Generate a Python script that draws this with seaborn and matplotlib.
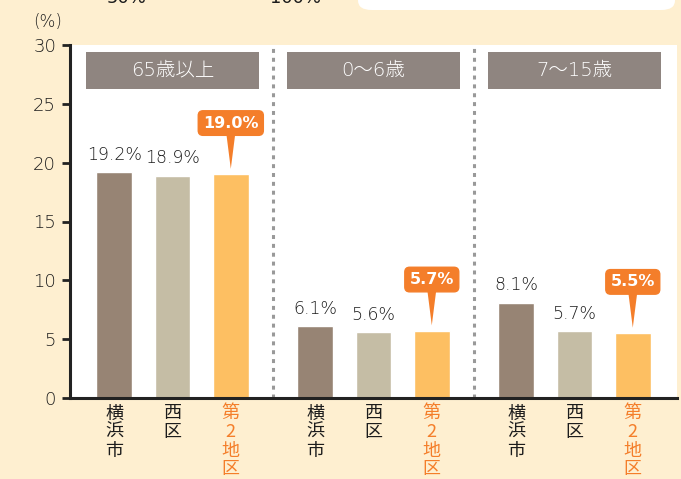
import numpy as np
import pandas as pd
import matplotlib.pyplot as plt
import seaborn as sns
from matplotlib.patches import FancyBboxPatch

# data
groups = ["65歳以上", "0〜6歳", "7〜15歳"]
areas = ["横浜市", "西区", "第2地区"]
area_ticks = ["横\n浜\n市", "西\n区", "第\n2\n地\n区"]
yokohama = [19.2, 6.1, 8.1]
nishi = [18.9, 5.6, 5.7]
chiku2 = [19.0, 5.7, 5.5]

bg = "#FEEFD0"
palette = {"横浜市": "#978474", "西区": "#C5BDA5", "第2地区": "#FDBF62"}
callout = "#F47E2A"
textc = "#1c1c1c"

df = pd.DataFrame({
    "group": np.repeat(groups, 3),
    "area": areas * 3,
    "value": [v for trio in zip(yokohama, nishi, chiku2) for v in trio],
})

sns.set_theme(style="white")
plt.rcParams["font.family"] = ["DejaVu Sans", "Noto Sans CJK JP"]
cjk = ["Noto Sans CJK JP", "DejaVu Sans"]

fig = plt.figure(figsize=(6.81, 4.79), dpi=100, facecolor=bg)
ax = fig.add_axes([70 / 681, 1 - 398 / 479, 607 / 681, 353 / 479])
ax.set_facecolor("white")

sns.barplot(data=df, x="group", y="value", hue="area", order=groups,
            hue_order=areas, palette=palette, width=0.87, gap=0.385,
            saturation=1, legend=False, ax=ax, errorbar=None)

ax.set_ylim(0, 30)
ax.set_xlim(-0.51, 2.51)
ax.set_yticks(range(0, 31, 5))
ax.tick_params(axis="y", direction="out", length=6, width=2, color="#222222",
               labelsize=13, labelcolor=textc, pad=4, left=True)
for lab in ax.get_yticklabels():
    lab.set_fontweight("light")
ax.tick_params(axis="x", bottom=False, labelbottom=False)
ax.set_xlabel("")
ax.set_ylabel("")
for s in ["top", "right"]:
    ax.spines[s].set_visible(False)
for s in ["left", "bottom"]:
    ax.spines[s].set_color("#222222")
    ax.spines[s].set_linewidth(2.2)

# group separators
for xs in [0.5, 1.5]:
    ax.axvline(xs, color="#999999", lw=2.2, ls=(0, (1.3, 1.6)), zorder=0)

# group header boxes
for i, g in enumerate(groups):
    ax.add_patch(plt.Rectangle((i - 0.43, 26.3), 0.86, 3.1, color="#8F8580",
                               lw=0, zorder=3))
    ax.text(i, 27.85, g, ha="center", va="center", color="white",
            fontsize=14, fontweight="light", zorder=4)

# value labels, tick labels
for k, cont in enumerate(ax.containers):
    for bar in cont:
        cx = bar.get_x() + bar.get_width() / 2
        h = bar.get_height()
        ax.text(cx, -0.55, area_ticks[k], ha="center", va="top",
                fontsize=13, linespacing=1.04, family=cjk,
                color=callout if k == 2 else textc, clip_on=False)
        if k < 2:
            ax.annotate(f"{h:.1f}%", (cx, h), xytext=(0, 6),
                        textcoords="offset points", ha="center", va="bottom",
                        fontsize=12.5, fontweight="light", color=textc)
        else:
            ax.annotate(f"{h:.1f}%", (cx, h), xytext=(0, 37),
                        textcoords="offset points", ha="center",
                        va="center", fontsize=11.5, color="white",
                        fontweight="bold", zorder=6,
                        bbox=dict(boxstyle="round,pad=0.3,rounding_size=0.3",
                                  fc=callout, ec=callout))
            # pointer
            ax.annotate("", (cx, h), xytext=(0, 30),
                        textcoords="offset points",
                        arrowprops=dict(arrowstyle="wedge,tail_width=0.55",
                                        fc=callout, ec=callout, lw=0,
                                        shrinkA=0, shrinkB=4), zorder=5)

fig.text(33 / 681, 1 - 22 / 479, "(%)", fontsize=12, fontweight="light",
         color=textc, ha="left", va="center")

# cut-off fragments at the top
fig.text(127 / 681, 1 + 2 / 479, "50%", fontsize=13, color=textc,
         ha="center", va="center")
fig.text(295 / 681, 1 + 2 / 479, "100%", fontsize=13, color=textc,
         ha="center", va="center")
fig.patches.append(FancyBboxPatch((358 / 681, 1 - 10 / 479), 317 / 681,
                                  30 / 479, boxstyle="round,pad=0,rounding_size=0.02",
                                  transform=fig.transFigure, fc="white",
                                  ec="none", figure=fig))

fig.savefig("out.png", dpi=100, facecolor=bg)
